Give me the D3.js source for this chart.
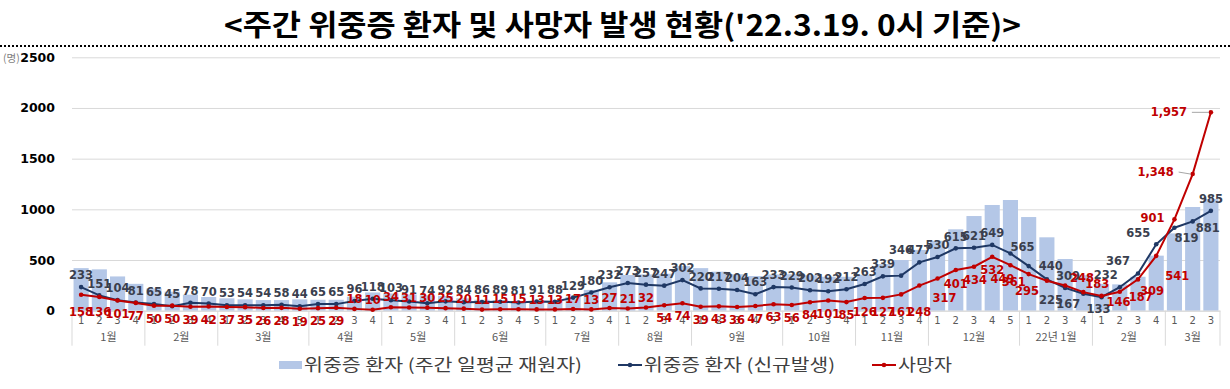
<!DOCTYPE html>
<html>
<head>
<meta charset="utf-8">
<script src="https://cdn.jsdelivr.net/npm/d3@7"></script>
<style>
body { margin: 0; background: #fff; }
svg { display: block; }
</style>
</head>
<body>
<div id="chart-area"></div>
<script>
// Months and number of weeks in each
var months = ["1월", "2월", "3월", "4월", "5월", "6월", "7월", "8월", "9월", "10월", "11월", "12월", "22년 1월", "2월", "3월"];
var weeksPerMonth = [4, 4, 5, 4, 4, 5, 4, 4, 5, 4, 4, 5, 4, 4, 3];

// 위중증 환자 (주간 일평균 재원자) - bars
var inpatients = [420, 408, 338, 265,
    220, 188, 158, 135,
    122, 112, 105, 105, 112,
    108, 108, 138, 180,
    170, 160, 152, 145,
    122, 108, 105, 95, 90,
    95, 138, 205, 280,
    352, 358, 365, 440,
    420, 385, 360, 342, 358,
    360, 350, 335, 335,
    355, 460, 500, 600,
    690, 803, 934, 1043, 1092,
    924, 724, 510, 350,
    265, 260, 335, 543,
    763, 1023, 1102];

// 위중증 환자 (신규발생)
var newSevere = [233, 151, 104, 81,
    65, 45, 78, 70,
    53, 54, 54, 58, 44,
    65, 65, 96, 118,
    103, 91, 74, 92,
    84, 86, 89, 81, 91,
    88, 129, 180, 232,
    273, 257, 247, 302,
    220, 217, 204, 163, 233,
    229, 202, 192, 212,
    263, 339, 346, 477,
    530, 615, 621, 649, 565,
    440, 309, 225, 167,
    133, 232, 367, 655,
    819, 881, 985];

// 사망자
var deaths = [158, 136, 101, 77,
    50, 50, 39, 42,
    37, 35, 26, 28, 19,
    25, 29, 18, 10,
    34, 31, 30, 25,
    20, 11, 15, 15, 13,
    13, 17, 13, 27,
    21, 32, 54, 74,
    39, 43, 36, 47, 63,
    56, 84, 101, 85,
    126, 127, 161, 248,
    317, 401, 434, 532, 449,
    361, 295, 248, 183,
    146, 187, 309, 541,
    901, 1348, 1957];

var yTicks = [0, 500, 1000, 1500, 2000, 2500];

var legendLabels = ["위중증 환자 (주간 일평균 재원자)", "위중증 환자 (신규발생)", "사망자"];

var barColor = "#B4C7E7",
    navy = "#1F3864",
    red = "#C00000",
    navyText = "#3A3F4E";

// build category list: month index + week number
var cats = [];
months.forEach(function(m, mi){
    for (var w = 1; w <= weeksPerMonth[mi]; w++) {
        cats.push({ month: mi, week: w });
    }
});

var svg = d3.select("#chart-area")
    .append("svg")
        .attr("width", 1230)
        .attr("height", 389);

// Title
svg.append("text")
    .attr("x", 224)
    .attr("y", 36)
    .attr("font-family", "'Noto Sans CJK KR', sans-serif")
    .attr("font-weight", "bold")
    .attr("font-size", "29px")
    .attr("textLength", 797)
    .attr("lengthAdjust", "spacingAndGlyphs")
    .attr("fill", "#000")
    .text("<주간 위중증 환자 및 사망자 발생 현황('22.3.19. 0시 기준)>");

svg.append("line")
    .attr("x1", 0).attr("x2", 1230)
    .attr("y1", 46).attr("y2", 46)
    .attr("stroke", "#000")
    .attr("stroke-width", 2)
    .attr("stroke-dasharray", "2,2");

var margin = { left: 72, top: 57.3 };
var width = 1148, height = 253.4;

var g = svg.append("g")
    .attr("transform", "translate(" + margin.left + "," + margin.top + ")");

// X Scale
var x = d3.scaleBand()
    .domain(d3.range(cats.length))
    .range([0, width])
    .paddingInner(0.17)
    .paddingOuter(0.085);

// Y Scale
var y = d3.scaleLinear()
    .domain([0, 2500])
    .range([height, 0]);

// grid lines
g.append("g")
    .attr("class", "grid")
    .call(d3.axisLeft(y).tickValues(yTicks).tickSize(-width).tickFormat(""))
    .call(function(s){
        s.select(".domain").remove();
        s.selectAll("line").attr("stroke", "#D9D9D9");
    });

// Y Axis
g.append("g")
    .call(d3.axisLeft(y).tickValues(yTicks).tickSize(0).tickPadding(17)
        .tickFormat(d3.format("d")))
    .call(function(s){
        s.select(".domain").remove();
        s.selectAll("text")
            .attr("font-family", "'DejaVu Sans', sans-serif")
            .attr("font-weight", "bold")
            .attr("font-size", "12.5px")
            .attr("fill", "#000");
    });

svg.append("text")
    .attr("x", 3)
    .attr("y", 62)
    .attr("font-family", "'Noto Sans CJK KR', sans-serif")
    .attr("font-size", "10.5px")
    .attr("fill", "#7f7f7f")
    .text("(명)");

// bars
g.selectAll("rect.bar")
    .data(inpatients)
    .enter()
    .append("rect")
        .attr("class", "bar")
        .attr("x", function(d, i){ return x(i); })
        .attr("y", function(d){ return y(d); })
        .attr("width", x.bandwidth())
        .attr("height", function(d){ return height - y(d); })
        .attr("fill", barColor);

// X axis: week numbers
var cx = function(i){ return x(i) + x.bandwidth() / 2; };

g.append("g")
    .attr("transform", "translate(0," + height + ")")
    .call(d3.axisBottom(x).tickSize(0).tickPadding(6)
        .tickFormat(function(i){ return cats[i].week; }))
    .call(function(s){
        s.select(".domain").attr("stroke", "#D9D9D9");
        s.selectAll("text")
            .attr("font-family", "'DejaVu Sans', sans-serif")
            .attr("font-size", "10px")
            .attr("fill", "#595959");
    });

// month groups
var step = x.step();
var start = 0;
var bounds = [0];
weeksPerMonth.forEach(function(n){ start += n; bounds.push(start); });
var edgeX = function(k){
    if (k === 0) return 0;
    if (k === cats.length) return width;
    return x(k) - step * x.paddingInner() / 2;
};

g.selectAll("line.sep")
    .data(bounds)
    .enter()
    .append("line")
        .attr("class", "sep")
        .attr("x1", function(k){ return edgeX(k); })
        .attr("x2", function(k){ return edgeX(k); })
        .attr("y1", height)
        .attr("y2", height + 35)
        .attr("stroke", "#D9D9D9");

g.selectAll("text.month")
    .data(months)
    .enter()
    .append("text")
        .attr("class", "month")
        .attr("x", function(m, mi){ return (edgeX(bounds[mi]) + edgeX(bounds[mi + 1])) / 2; })
        .attr("y", height + 30)
        .attr("text-anchor", "middle")
        .attr("font-family", "'Noto Sans CJK KR', sans-serif")
        .attr("font-size", "11px")
        .attr("fill", "#595959")
        .text(function(m){ return m; });

// lines
var line = function(vals){
    return d3.line()
        .x(function(d, i){ return cx(i); })
        .y(function(d){ return y(d); })(vals);
};

g.append("path")
    .attr("d", line(newSevere))
    .attr("fill", "none")
    .attr("stroke", navy)
    .attr("stroke-width", 2);

g.selectAll("circle.navy")
    .data(newSevere)
    .enter()
    .append("circle")
        .attr("class", "navy")
        .attr("cx", function(d, i){ return cx(i); })
        .attr("cy", function(d){ return y(d); })
        .attr("r", 2.3)
        .attr("fill", navy);

g.append("path")
    .attr("d", line(deaths))
    .attr("fill", "none")
    .attr("stroke", red)
    .attr("stroke-width", 2);

g.selectAll("circle.red")
    .data(deaths)
    .enter()
    .append("circle")
        .attr("class", "red")
        .attr("cx", function(d, i){ return cx(i); })
        .attr("cy", function(d){ return y(d); })
        .attr("r", 2.3)
        .attr("fill", red);

// label placement (offsets from the point, label centre)
var navyOffset = {
    45: [0, -26], 51: [12, -7], 52: [22, 0], 53: [21, -4], 54: [-14, 12],
    55: [-15, 10], 56: [-3, 12], 57: [-14, -12], 58: [-20, -13], 59: [-18, -11],
    60: [12, 10], 61: [15, 6], 62: [0, -12]
};
var redOffset = {
    47: [7, 19], 48: [0, 14], 49: [1, 13], 50: [0, 13], 51: [-8, 14],
    52: [-15, 8], 53: [-20, 10], 54: [17, -8], 55: [14, -8], 56: [17, 6],
    57: [21, 5], 58: [14, 11], 59: [21, 20], 60: [-22, -2], 61: [-37, -2], 62: [-42, 0]
};

function navyPos(d, i){
    var o = navyOffset[i] || [0, -12];
    return [cx(i) + o[0], y(d) + o[1]];
}
function redPos(d, i){
    if (redOffset[i]) return [cx(i) + redOffset[i][0], y(d) + redOffset[i][1]];
    if (i >= 15 && i <= 31) return [cx(i), y(d) - 10];
    return [cx(i), Math.max(y(d) + 13, height + 1.5)];
}

var fmt = d3.format(",");

// leader lines for the big labels
[61, 62].forEach(function(i){
    var p = redPos(deaths[i], i);
    g.append("line")
        .attr("x1", p[0] + 23).attr("x2", cx(i) - 2)
        .attr("y1", p[1]).attr("y2", y(deaths[i]))
        .attr("stroke", "#A6A6A6")
        .attr("stroke-width", 1);
});

g.selectAll("text.nlab")
    .data(newSevere)
    .enter()
    .append("text")
        .attr("class", "nlab")
        .attr("x", function(d, i){ return navyPos(d, i)[0]; })
        .attr("y", function(d, i){ return navyPos(d, i)[1]; })
        .attr("dy", "0.36em")
        .attr("text-anchor", "middle")
        .attr("font-family", "'DejaVu Sans', sans-serif")
        .attr("font-weight", "bold")
        .attr("font-size", "11.5px")
        .attr("fill", navyText)
        .text(function(d){ return fmt(d); });

g.selectAll("text.rlab")
    .data(deaths)
    .enter()
    .append("text")
        .attr("class", "rlab")
        .attr("x", function(d, i){ return redPos(d, i)[0]; })
        .attr("y", function(d, i){ return redPos(d, i)[1]; })
        .attr("dy", "0.36em")
        .attr("text-anchor", "middle")
        .attr("font-family", "'DejaVu Sans', sans-serif")
        .attr("font-weight", "bold")
        .attr("font-size", "11.5px")
        .attr("fill", red)
        .text(function(d){ return fmt(d); });

// Legend
var legend = svg.append("g");
var ly = 365;

legend.append("rect")
    .attr("x", 279).attr("y", ly - 4)
    .attr("width", 23).attr("height", 8)
    .attr("fill", barColor);

[[618, navy], [872, red]].forEach(function(p){
    legend.append("line")
        .attr("x1", p[0]).attr("x2", p[0] + 24)
        .attr("y1", ly).attr("y2", ly)
        .attr("stroke", p[1]).attr("stroke-width", 2);
    legend.append("circle")
        .attr("cx", p[0] + 12).attr("cy", ly)
        .attr("r", 2.3).attr("fill", p[1]);
});

var legendPos = [[304, 278], [644, 191], [898, 54]];
legendLabels.forEach(function(t, k){
    legend.append("text")
        .attr("x", legendPos[k][0])
        .attr("y", ly)
        .attr("dy", "0.36em")
        .attr("font-family", "'Noto Sans CJK KR', sans-serif")
        .attr("font-size", "16.5px")
        .attr("fill", "#404040")
        .attr("textLength", legendPos[k][1])
        .attr("lengthAdjust", "spacingAndGlyphs")
        .text(t);
});
</script>
</body>
</html>
